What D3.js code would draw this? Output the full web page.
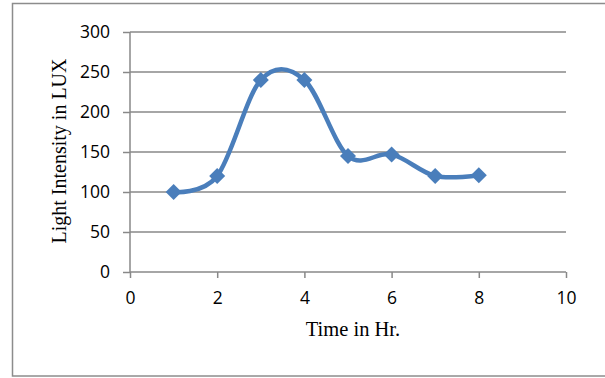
<!DOCTYPE html>
<html>
<head>
<meta charset="utf-8">
<script src="https://cdn.jsdelivr.net/npm/d3@7"></script>
<style>
  body { margin: 0; background: #fff; }
</style>
</head>
<body>
<div class="canva"></div>
<script>
// data
var hours = [1, 2, 3, 4, 5, 6, 7, 8];
var lux = [100, 120, 240, 240, 145, 147, 120, 121];
var xTicks = [0, 2, 4, 6, 8, 10];
var yTicks = [0, 50, 100, 150, 200, 250, 300];

const svg = d3.select(".canva").append("svg")
    .attr("width", 605)
    .attr("height", 378);

// outer frame
svg.append("rect")
    .attr("x", 12.5).attr("y", 3.5)
    .attr("width", 620).attr("height", 372.5)
    .attr("fill", "none")
    .attr("stroke", "#8c8c8c")
    .attr("stroke-width", 1.5);

const margin = {top: 32, left: 130};
const graphWidth = 566 - 130;
const graphHeight = 272 - 32;

const g = svg.append("g")
    .attr("transform", `translate(${margin.left}, ${margin.top})`);

var x = d3.scaleLinear().domain([0, 10]).range([0, graphWidth]);
var y = d3.scaleLinear().domain([0, 300]).range([graphHeight, 0]);

// gridlines
g.append("g")
    .selectAll("line")
    .data(yTicks.filter(d => d > 0))
    .enter().append("line")
    .attr("x1", 0).attr("x2", graphWidth)
    .attr("y1", d => y(d)).attr("y2", d => y(d))
    .attr("stroke", "#888")
    .attr("stroke-width", 1.5);

var yAxis = d3.axisLeft(y).tickValues(yTicks).tickSize(7).tickPadding(13);
var xAxis = d3.axisBottom(x).tickValues(xTicks).tickSize(6).tickPadding(14);

const ya = g.append("g").call(yAxis);
const xa = g.append("g").attr("transform", "translate(0," + graphHeight + ")").call(xAxis);

[ya, xa].forEach(function(a) {
    a.select(".domain").attr("stroke", "#888").attr("stroke-width", 1.5);
    a.selectAll(".tick line").attr("stroke", "#888").attr("stroke-width", 1.5);
    a.selectAll(".tick text")
        .attr("fill", "#000")
        .style("font-family", "'Open Sans', sans-serif")
        .style("font-size", "17.5px");
});
xa.select(".domain").attr("d", "M0,0H" + graphWidth);
ya.select(".domain").attr("d", "M0," + graphHeight + "V0");

// smoothed line
var valueLine = d3.line()
    .x((d, i) => x(hours[i]))
    .y(d => y(d))
    .curve(d3.curveCardinal.tension(0));

g.append("path")
    .datum(lux)
    .attr("fill", "none")
    .attr("stroke", "#4a7ebb")
    .attr("stroke-width", 4.5)
    .attr("d", valueLine);

// diamond markers
g.selectAll(".marker")
    .data(lux)
    .enter().append("path")
    .attr("class", "marker")
    .attr("transform", (d, i) => `translate(${x(hours[i])},${y(d)})`)
    .attr("d", "M0,-8L8,0L0,8L-8,0Z")
    .attr("fill", "#4a7ebb");

// axis titles
svg.append("text")
    .attr("x", 353).attr("y", 336)
    .attr("text-anchor", "middle")
    .style("font-family", "'Liberation Serif', serif")
    .style("font-size", "20.5px")
    .text("Time in Hr.");

svg.append("text")
    .attr("transform", "translate(66,151) rotate(-90)")
    .attr("text-anchor", "middle")
    .style("font-family", "'Liberation Serif', serif")
    .style("font-size", "20px")
    .text("Light Intensity in LUX");
</script>
</body>
</html>
